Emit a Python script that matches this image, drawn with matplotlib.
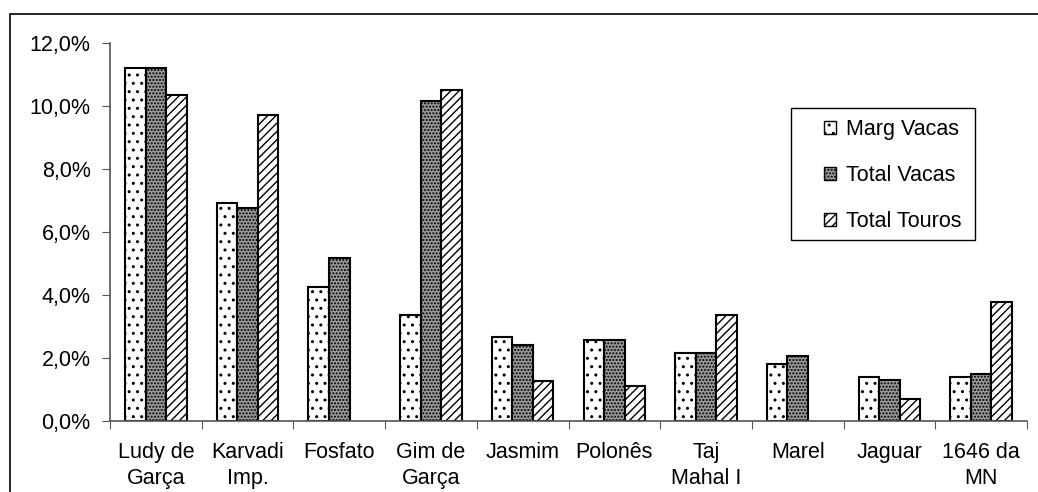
import numpy as np
import matplotlib
matplotlib.use('Agg')
import matplotlib.pyplot as plt
from matplotlib.patches import Rectangle

categories = ['Ludy de\nGarça', 'Karvadi\nImp.', 'Fosfato', 'Gim de\nGarça', 'Jasmim',
              'Polonês', 'Taj\nMahal I', 'Marel', 'Jaguar', '1646 da\nMN']
series_names = ['Marg Vacas', 'Total Vacas', 'Total Touros']
marg_vacas = [11.2, 6.9, 4.25, 3.35, 2.65, 2.55, 2.15, 1.8, 1.4, 1.39]
total_vacas = [11.2, 6.75, 5.15, 10.15, 2.4, 2.55, 2.15, 2.05, 1.3, 1.49]
total_touros = [10.35, 9.7, 0, 10.5, 1.25, 1.1, 3.35, 0, 0.7, 3.77]
yticks = [0, 2, 4, 6, 8, 10, 12]

plt.rcParams['font.family'] = ['Liberation Sans', 'DejaVu Sans']
plt.rcParams['hatch.linewidth'] = 1.0

W, H = 1038, 492
fig = plt.figure(figsize=(W/100, H/100), dpi=100)
ax = fig.add_axes([110/W, 1-420.7/H, (1027-110)/W, (420.7-42.7)/H])

# outer frame of the chart area
fig.patches.append(Rectangle((10/W, -0.01), 1.2, 1-14/H+0.01, transform=fig.transFigure,
                             fill=False, edgecolor='black', linewidth=1.2, zorder=0))
# legend frame
fig.patches.append(Rectangle((791/W, 1-240/H), 184/W, 132/H, transform=fig.transFigure,
                             facecolor='white', edgecolor='black', linewidth=1.0, zorder=5))

x = np.arange(len(categories))
w = 0.224
styles = [dict(facecolor='white', hatch='..'),
          dict(facecolor='#9a9a9a', hatch='.....'),
          dict(facecolor='white', hatch='////')]
for i, (vals, st) in enumerate(zip([marg_vacas, total_vacas, total_touros], styles)):
    vals = np.array(vals, dtype=float)
    vals[vals == 0] = np.nan  # empty bars are not drawn
    ax.bar(x + 0.5 + (i - 1) * w, vals, width=w, edgecolor='black', linewidth=1.5,
           label=series_names[i], **st)

fs = 15.5
ax.set_xlim(0, len(categories))
ax.set_ylim(0, 12)
ax.set_yticks(yticks)
ax.set_yticklabels([f'{v:.1f}%'.replace('.', ',') for v in yticks], fontsize=fs)
ax.set_xticks(np.arange(len(categories) + 1))
ax.set_xticklabels([])
ax.set_xticks(x + 0.5, minor=True)
ax.set_xticklabels(categories, minor=True, fontsize=fs, linespacing=1.35)
ax.tick_params(axis='x', which='minor', length=0, pad=15)
ax.tick_params(axis='x', which='major', length=6, color='#555555', direction='out')
ax.tick_params(axis='y', length=6, color='#555555', direction='out', pad=8)

for s in ['top', 'right']:
    ax.spines[s].set_visible(False)
for s in ['left', 'bottom']:
    ax.spines[s].set_color('#555555')
    ax.spines[s].set_linewidth(1.2)

leg = fig.legend(*ax.get_legend_handles_labels(), loc='upper left',
                 bbox_to_anchor=(824/W, 1-119/H), bbox_transform=fig.transFigure,
                 borderaxespad=0, borderpad=0, fontsize=fs, frameon=False,
                 handlelength=0.55, handleheight=0.55, handletextpad=0.45, labelspacing=1.17)
leg.set_zorder(6)
for h in leg.legend_handles:
    h.set_linewidth(1.0)

fig.savefig('out.png', dpi=100)
